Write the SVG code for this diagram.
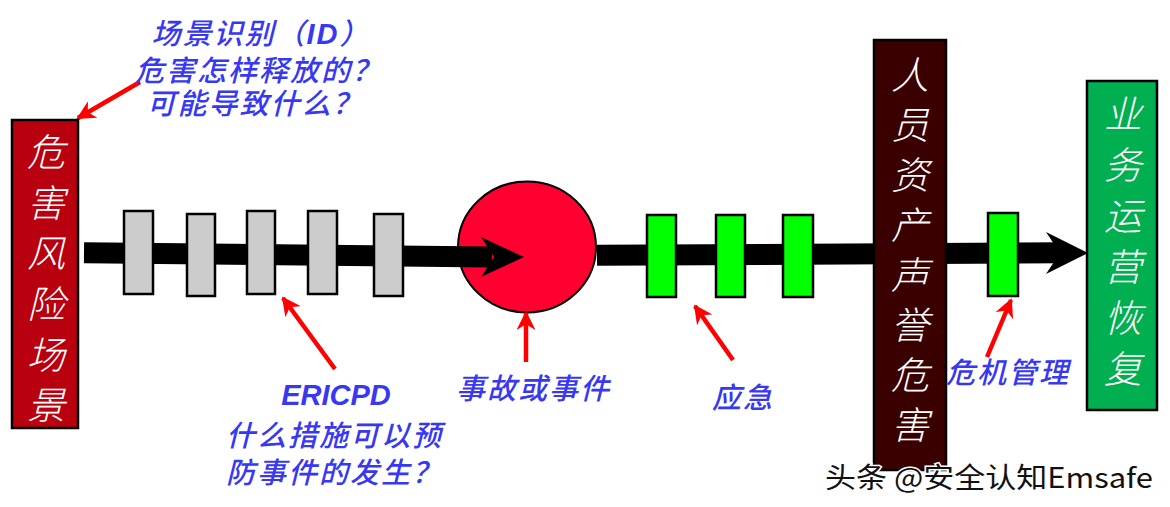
<svg xmlns="http://www.w3.org/2000/svg" width="1170" height="507" viewBox="0 0 1170 507">
<defs>
<style>
.box{stroke:#000;stroke-width:2.5}
.bar{stroke:#000;stroke-width:2.5}
.gray{fill:#CCCCCC}
.green{fill:#00FF00}
.vt{fill:#fff;font-family:"Noto Sans CJK SC","Noto Sans",sans-serif;font-size:38px;font-style:italic;font-weight:300;text-anchor:middle}
.bl{fill:#3838F2;font-family:"Noto Sans CJK SC","Liberation Sans",sans-serif;font-size:29px;font-style:italic;font-weight:500;letter-spacing:2px}
.red{stroke:#FF0000;stroke-width:4.5;fill:none;marker-end:url(#ah)}
</style>
<marker id="ah" viewBox="0 0 10 10" refX="9" refY="5" markerWidth="4.2" markerHeight="4.2" orient="auto" markerUnits="strokeWidth">
<path d="M0,0 L10,5 L0,10 L3,5 z" fill="#FF0000"/>
</marker>
</defs>
<rect width="1170" height="507" fill="#fff"/>

<g id="accident">
<ellipse cx="527" cy="247" rx="69" ry="65.5" fill="#FF0030" stroke="#000" stroke-width="2"/>
</g>

<g id="connectors">
<path d="M84,252.8 L492,257" stroke="#000" stroke-width="21" fill="none"/>
<polygon points="481,237 524,257 481,277 494,257" fill="#000"/>
<path d="M597,255.3 L1062,252.8" stroke="#000" stroke-width="21" fill="none"/>
<polygon points="1046,232 1088,253 1046,274 1060,253" fill="#000"/>
<line class="red" x1="140" y1="82" x2="78" y2="118"/>
<line class="red" x1="335" y1="369" x2="283" y2="298"/>
<line class="red" x1="526" y1="362" x2="526" y2="313"/>
<line class="red" x1="733" y1="360" x2="695" y2="306"/>
<line class="red" x1="987" y1="357" x2="1011" y2="300"/>
</g>

<g id="hazard-scenario">
<rect class="box" x="12" y="120" width="66" height="308" fill="#B8000F"/>
<text class="vt"><tspan x="46" y="166">危</tspan><tspan x="46" y="217">害</tspan><tspan x="46" y="267">风</tspan><tspan x="46" y="318">险</tspan><tspan x="46" y="369">场</tspan><tspan x="46" y="419">景</tspan></text>
</g>

<g id="barriers-prevent">
<rect class="bar gray" x="124" y="211" width="29" height="83"/>
<rect class="bar gray" x="187" y="214" width="28" height="82"/>
<rect class="bar gray" x="247" y="211" width="28" height="83"/>
<rect class="bar gray" x="308" y="211" width="29" height="83"/>
<rect class="bar gray" x="374" y="214" width="29" height="82"/>
</g>

<g id="barriers-respond">
<rect class="bar green" x="647" y="215" width="29" height="82"/>
<rect class="bar green" x="716" y="215" width="29" height="82"/>
<rect class="bar green" x="783" y="215" width="30" height="82"/>
<rect class="bar green" x="988" y="213" width="30" height="83"/>
</g>

<g id="harm">
<rect class="box" x="874" y="40" width="72" height="430" fill="#3A0000"/>
<text class="vt"><tspan x="910" y="89">人</tspan><tspan x="910" y="139">员</tspan><tspan x="910" y="189">资</tspan><tspan x="910" y="239">产</tspan><tspan x="910" y="289">声</tspan><tspan x="910" y="339">誉</tspan><tspan x="910" y="389">危</tspan><tspan x="910" y="439">害</tspan></text>
</g>

<g id="recovery">
<rect class="box" x="1087" y="81" width="70" height="329" fill="#00AF50"/>
<text class="vt"><tspan x="1123" y="128">业</tspan><tspan x="1123" y="179">务</tspan><tspan x="1123" y="230">运</tspan><tspan x="1123" y="281">营</tspan><tspan x="1123" y="332">恢</tspan><tspan x="1123" y="383">复</tspan></text>
</g>

<g id="labels">
<text class="bl" text-anchor="middle"><tspan x="261" y="44">场景识别（<tspan font-family="Liberation Sans" font-weight="bold">ID</tspan>）</tspan><tspan x="259" y="81">危害怎样释放的？</tspan><tspan x="255" y="114">可能导致什么？</tspan></text>
<text x="336" y="405" fill="#3838F2" font-family="Liberation Sans,Arial,sans-serif" font-size="29" font-weight="bold" font-style="italic" text-anchor="middle">ERICPD</text>
<text class="bl"><tspan x="226" y="446">什么措施可以预</tspan><tspan x="226" y="483">防事件的发生？</tspan></text>
<text class="bl" x="456" y="399">事故或事件</text>
<text class="bl" x="712" y="408">应急</text>
<text class="bl" x="946" y="383">危机管理</text>
</g>

<g id="watermark">
<text x="825" y="488" font-family="Noto Sans CJK SC,Liberation Sans,sans-serif" font-size="28" fill="#111" stroke="#fff" stroke-width="3" paint-order="stroke" textLength="328" lengthAdjust="spacingAndGlyphs">头条 @安全认知Emsafe</text>
</g>
</svg>
